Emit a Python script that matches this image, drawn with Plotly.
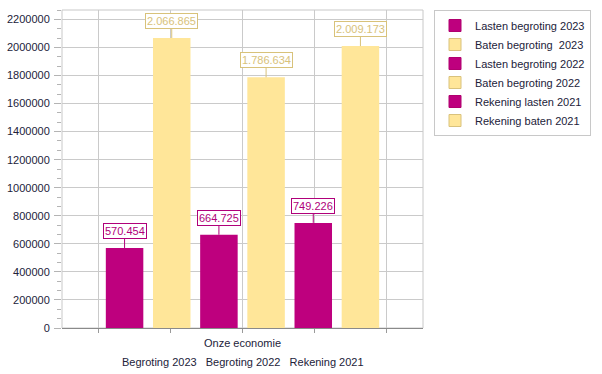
import plotly.graph_objects as go

category = "Onze economie"
series_names = [
    "Lasten begroting 2023",
    "Baten begroting\u00a0 2023",
    "Lasten begroting 2022",
    "Baten begroting 2022",
    "Rekening lasten 2021",
    "Rekening baten 2021",
]
series_values = [570454, 2066865, 664725, 1786634, 749226, 2009173]
series_kind = ["lasten", "baten", "lasten", "baten", "lasten", "baten"]
group_labels = ["Begroting 2023", "Begroting 2022", "Rekening 2021"]
y_ticks = list(range(0, 2200001, 200000))

FILL = {"lasten": "#BE007E", "baten": "#FFE699"}
EDGE = {"lasten": "#B0006F", "baten": "#D9C27C"}
LABEL = {"lasten": "#B0007A", "baten": "#D8C27A"}
FONT = "Tahoma, Liberation Sans, Arial, sans-serif"
TXT = "#22223a"
GRID = "#cacaca"

BARGAP = 0.216
BARGROUPGAP = 0.205
n = len(series_values)

fig = go.Figure()
for name, val, kind in zip(series_names, series_values, series_kind):
    fig.add_trace(go.Bar(
        x=[category], y=[val], name=name, showlegend=False,
        marker=dict(color=FILL[kind], line=dict(width=0)),
        hoverinfo="skip",
    ))

# legend-only entries (on overlay axis so they don't take group slots)
for name, kind in zip(series_names, series_kind):
    fig.add_trace(go.Bar(
        x=[None], y=[None], name=name, xaxis="x2", yaxis="y",
        marker=dict(color=FILL[kind], line=dict(width=1, color=EDGE[kind])),
        hoverinfo="skip",
    ))

# invisible helper so the overlay axis renders
fig.add_trace(go.Scatter(x=[0.5], y=[0], xaxis="x2", mode="markers",
                         marker=dict(opacity=0), showlegend=False, hoverinfo="skip"))

annotations = []
slot = (1 - BARGAP) / n
for i, (val, kind) in enumerate(zip(series_values, series_kind)):
    xc = -0.5 + BARGAP / 2 + (i + 0.5) * slot
    txt = f"{val:,}".replace(",", ".")
    annotations.append(dict(
        x=xc, y=val, xref="x", yref="y", text=txt,
        showarrow=True, arrowhead=0, arrowwidth=1, arrowcolor=LABEL[kind],
        ax=0, ay=-17,
        font=dict(family=FONT, size=11, color=LABEL[kind]),
        bordercolor=LABEL[kind], borderwidth=1, borderpad=1, bgcolor="white",
    ))

# second line of category labels under the axis
annotations.append(dict(
    x=0.5, y=0, xref="paper", yref="paper", xanchor="center", yanchor="top",
    yshift=-26, showarrow=False,
    text="\u00a0\u00a0\u00a0".join(group_labels),
    font=dict(family=FONT, size=11, color=TXT),
))

fig.update_layout(
    width=602, height=374,
    margin=dict(l=62, r=179, t=10, b=46, autoexpand=False),
    paper_bgcolor="white", plot_bgcolor="white",
    barmode="group", bargap=BARGAP, bargroupgap=BARGROUPGAP,
    font=dict(family=FONT, size=11, color=TXT),
    showlegend=True,
    legend=dict(x=1.0305, y=1, xanchor="left", yanchor="top",
                bordercolor="#c8c8c8", borderwidth=1, bgcolor="white",
                font=dict(family=FONT, size=11, color=TXT),
                tracegroupgap=0, itemclick=False, itemdoubleclick=False),
    xaxis=dict(type="category", range=[-0.5, 0.5], showgrid=False,
               showline=True, linecolor="#8a8a8a", linewidth=1,
               ticks="", ticklabelstandoff=5,
               tickfont=dict(family=FONT, size=11, color=TXT),
               automargin=False, zeroline=False, fixedrange=True),
    xaxis2=dict(overlaying="x", side="bottom", range=[0, 5], tick0=0.5, dtick=1,
                showgrid=True, gridcolor=GRID, gridwidth=1,
                showticklabels=False, ticks="outside", ticklen=4, tickcolor="#9a9a9a",
                showline=False, zeroline=False, fixedrange=True, automargin=False),
    yaxis=dict(range=[0, 2266667], tickvals=y_ticks, tickformat="d",
               showgrid=True, gridcolor=GRID, gridwidth=1,
               ticks="outside", ticklen=7, tickcolor="#b4b4b4",
               ticklabelstandoff=2,
               minor=dict(dtick=200000 / 3, tick0=0, ticks="outside", ticklen=4,
                          tickcolor="#b4b4b4", showgrid=False),
               showline=False, zeroline=False, automargin=False,
               tickfont=dict(family=FONT, size=11, color=TXT), fixedrange=True),
    annotations=annotations,
    shapes=[dict(type="rect", xref="paper", yref="paper", x0=0, x1=1, y0=0, y1=1,
                 line=dict(color="#c8c8c8", width=1), layer="below")],
)

fig.write_html("out.html", config={"displayModeBar": False},
               post_script="document.body.style.margin='0';")
